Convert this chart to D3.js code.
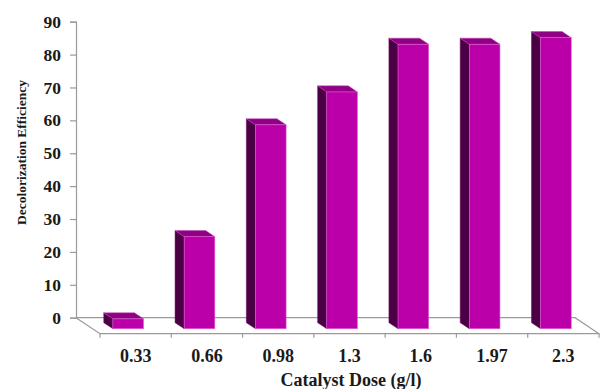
<!DOCTYPE html>
<html>
<head>
<meta charset="utf-8">
<script src="https://cdn.jsdelivr.net/npm/d3@7"></script>
<style>
  html, body { margin: 0; padding: 0; background: #ffffff; }
  svg { display: block; }
  text { font-family: "Liberation Serif", "Times New Roman", serif; font-weight: bold; fill: #1a1a1a; }
</style>
</head>
<body>
<svg id="chart" width="600" height="389"></svg>
<script>
// Catalyst dose (g/l) and decolorization efficiency
const categories = ["0.33", "0.66", "0.98", "1.3", "1.6", "1.97", "2.3"];
const efficiency = [3, 28, 62, 72, 86.5, 86.5, 88.5];
const yTicks = [0, 10, 20, 30, 40, 50, 60, 70, 80, 90];

const svg = d3.select("#chart");

// oblique 3D floor: back edge on the wall, front edge carries the categories
const depthX = 24, depthY = 16;
const frontLeft = 100, frontRight = 599;
const floorBackY = 317.7, floorFrontY = floorBackY + depthY;
const fBack = 0.31, fFront = 0.69;   // bar depth inside the floor

const x = d3.scaleBand().domain(categories).range([frontLeft, frontRight]).padding(0);
const y = d3.scaleLinear().domain([0, 90]).range([floorBackY, 21.7]);
const barW = x.bandwidth() * 0.43;

const grey = "#9a9a9a";

// floor outline
const floor = svg.append("g").attr("fill", "none").attr("stroke", grey).attr("stroke-width", 1.2);
floor.append("path").attr("d", d3.line()([
  [frontLeft - depthX, floorBackY], [frontRight - depthX, floorBackY],
  [frontRight, floorFrontY], [frontLeft, floorFrontY], [frontLeft - depthX, floorBackY]
]));

// category boundary ticks on the front edge
const bounds = categories.map(c => x(c)).concat([frontRight]);
floor.selectAll("line.tick").data(bounds).join("line")
  .attr("x1", d => d).attr("x2", d => d)
  .attr("y1", floorFrontY).attr("y2", floorFrontY + 4);

// value axis on the back-left corner
const yAxis = svg.append("g")
  .attr("transform", `translate(${frontLeft - depthX},0)`)
  .call(d3.axisLeft(y).tickValues(yTicks).tickSize(6).tickPadding(9));
yAxis.select(".domain").attr("stroke", grey).attr("stroke-width", 1.2);
yAxis.selectAll(".tick line").attr("stroke", grey).attr("stroke-width", 1.2);
yAxis.selectAll(".tick text").attr("font-size", 17.5)
  .attr("font-family", "Liberation Serif, serif").attr("font-weight", "bold").attr("fill", "#1a1a1a");

// category labels
svg.append("g").selectAll("text").data(categories).join("text")
  .attr("x", d => x(d) + x.bandwidth() / 2)
  .attr("y", 362)
  .attr("text-anchor", "middle")
  .attr("font-size", 18)
  .text(d => d);

// 3D columns
const dxb = depthX * (fFront - fBack), dyb = depthY * (fFront - fBack);
const baseY = floorBackY + depthY * fFront;
const bars = svg.append("g").selectAll("g").data(categories.map((c, i) => ({ c, v: efficiency[i] }))).join("g");

bars.each(function (d) {
  const g = d3.select(this);
  const xf = x(d.c) + (x.bandwidth() - barW) / 2 - depthX * (1 - fFront);
  const h = y(0) - y(d.v);
  const top = baseY - h;
  // left side
  g.append("path")
    .attr("d", d3.line()([[xf, baseY], [xf, top], [xf - dxb, top - dyb], [xf - dxb, baseY - dyb]]) + "Z")
    .attr("fill", "#4b0045").attr("stroke", "#7a1070").attr("stroke-width", 0.5);
  // top
  g.append("path")
    .attr("d", d3.line()([[xf, top], [xf + barW, top], [xf + barW - dxb, top - dyb], [xf - dxb, top - dyb]]) + "Z")
    .attr("fill", "#8f0083").attr("stroke", "#c040b8").attr("stroke-width", 0.5);
  // front
  g.append("rect")
    .attr("x", xf).attr("y", top).attr("width", barW).attr("height", h)
    .attr("fill", "#bb00aa").attr("stroke", "#e060d8").attr("stroke-width", 0.6);
});

// axis titles
svg.append("text")
  .attr("transform", "translate(26,152.5) rotate(-90)")
  .attr("text-anchor", "middle")
  .attr("font-size", 13.5)
  .text("Decolorization Efficiency");

svg.append("text")
  .attr("x", 351).attr("y", 386)
  .attr("text-anchor", "middle")
  .attr("font-size", 18)
  .text("Catalyst Dose (g/l)");
</script>
</body>
</html>
